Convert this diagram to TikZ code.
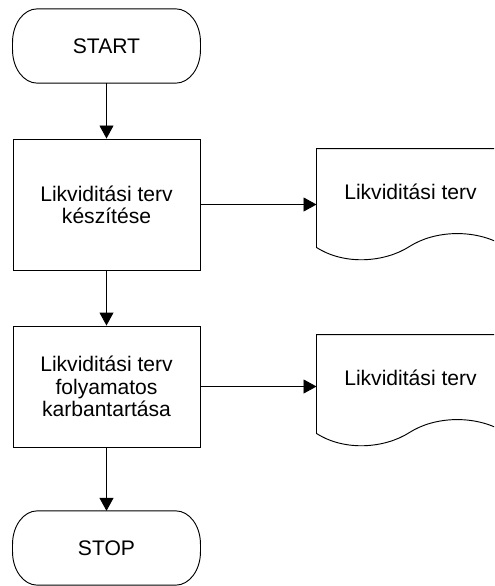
\documentclass[tikz,border=0pt]{standalone}
\usepackage{fontspec}
\setmainfont{Liberation Sans}
\usepackage{tikz}
\usetikzlibrary{arrows.meta,calc}

\begin{document}
\begin{tikzpicture}[x=0.03cm,y=-0.03cm,>={Triangle[width=0.42cm,length=0.39cm]},
  line width=0.8pt,
  txt/.style={font=\fontsize{18}{19}\selectfont,align=center},
  term/.style={txt,minimum width=5.61cm,minimum height=2.2cm,inner sep=0pt},
  procbox/.style={txt,draw,minimum width=5.61cm,inner sep=0pt},
  docbox/.style={minimum width=5.61cm,minimum height=2.94cm,inner sep=0pt}]
 \path[use as bounding box,clip] (0,0) rectangle (494,586);
 % terminals and process boxes
 \node[term] (start) at (106.5,46) {START};
 \node[procbox,minimum height=3.93cm] (plan1) at (106.5,204.5) {Likviditási terv\\készítése};
 \node[procbox,minimum height=3.63cm] (plan2) at (106.5,386.5) {Likviditási terv\\folyamatos\\karbantartása};
 \node[term] (stop) at (106.5,548) {STOP};
 \foreach \t in {start,stop}{
   \draw ([xshift=0.74cm]\t.north west) -- ([xshift=-0.74cm]\t.north east)
     arc[start angle=90,end angle=0,x radius=0.74cm,y radius=1.0cm]
     -- ([yshift=1.0cm]\t.south east)
     arc[start angle=0,end angle=-90,x radius=0.74cm,y radius=1.0cm]
     -- ([xshift=0.74cm]\t.south west)
     arc[start angle=-90,end angle=-180,x radius=0.74cm,y radius=1.0cm]
     -- ([yshift=-1.0cm]\t.north west)
     arc[start angle=180,end angle=90,x radius=0.74cm,y radius=1.0cm] -- cycle;}
 % documents
 \node[docbox,label={[txt,yshift=0.18cm]center:Likviditási terv}] (doc1) at (410.5,198) {};
 \node[docbox,label={[txt,yshift=0.18cm]center:Likviditási terv}] (doc2) at (410.5,384) {};
 \foreach \d in {doc1,doc2}{
   \draw (\d.north east) -- (\d.north west) -- (\d.south west)
     .. controls ($(\d.south west)+(28,18)$) and ($(\d.south west)+(68,15)$) .. ($(\d.south west)+(93,-1)$)
     .. controls ($(\d.south west)+(118,-17)$) and ($(\d.south west)+(158,-19)$) .. ($(\d.south west)+(187,-2)$);}
 % flow
 \draw[->] (start) -- (plan1);
 \draw[->] (plan1) -- (plan2);
 \draw[->] (plan2) -- (stop.north);
 \draw[->] (plan1.east) -- (plan1.east -| doc1.west);
 \draw[->] (plan2.east) -- (plan2.east -| doc2.west);
\end{tikzpicture}
\end{document}
